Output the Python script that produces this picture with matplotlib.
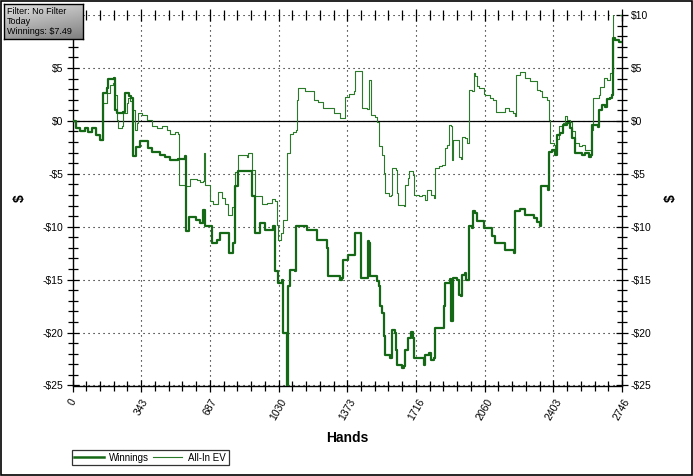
"""
Recreation of a poker session graph: Winnings vs All-In EV over hands.
"""

import matplotlib
matplotlib.use("Agg")
import matplotlib.pyplot as plt
import matplotlib.patches as mpatches
from matplotlib.lines import Line2D
import numpy as np

matplotlib.rc("font", **{"family": ["Liberation Sans", "DejaVu Sans"], "size": 7})

# ── data ──────────────────────────────────────────────────────
X_TICKS = [0, 343.25, 686.5, 1029.75, 1373, 1716.25, 2059.5, 2402.75, 2746]
X_LABELS = ["0", "343", "687", "1030", "1373", "1716", "2060", "2403", "2746"]
Y_TICKS = [-25, -20, -15, -10, -5, 0, 5, 10]
Y_LABELS = ["-$25", "-$20", "-$15", "-$10", "-$5", "$0", "$5", "$10"]

win_hands = [2, 18, 38, 63, 78, 98, 118, 138, 150, 153, 173, 178, 208, 213, 223, 253,
             263, 283, 293, 303, 318, 338, 378, 398, 438, 463, 488, 528, 563, 565,
             583, 618, 638, 653, 663, 696, 721, 738, 784, 804, 813, 829, 888, 896,
             913, 938, 963, 1003, 1013, 1029, 1046, 1051, 1066, 1071, 1079, 1088,
             1113, 1118, 1171, 1221, 1271, 1279, 1338, 1348, 1354, 1379, 1413, 1438,
             1443, 1473, 1475, 1483, 1486, 1522, 1530, 1535, 1546, 1555, 1563, 1588,
             1597, 1610, 1618, 1622, 1647, 1655, 1663, 1677, 1693, 1702, 1708, 1747,
             1755, 1763, 1780, 1793, 1805, 1810, 1838, 1855, 1863, 1888, 1893, 1900,
             1922, 1930, 1943, 1947, 1963, 1968, 1977, 1980, 1997, 2002, 2013, 2022,
             2055, 2097, 2113, 2163, 2205, 2210, 2238, 2263, 2305, 2323, 2335, 2342,
             2377, 2380, 2397, 2413, 2422, 2438, 2450, 2472, 2488, 2497, 2513, 2547,
             2563, 2580, 2593, 2597, 2627, 2633, 2648, 2663, 2672, 2688, 2697, 2700,
             2713, 2730, 2746]
win_vals = [0.0, -0.66, -0.94, -0.66, -1.04, -0.66, -1.32, -1.79, -1.79, 2.64, 3.11,
            3.96, 4.06, 1.04, 0.75, 0.85, 2.64, 2.36, 2.17, -3.30, -2.45, -1.89, -2.55,
            -2.92, -3.21, -3.40, -3.68, -3.58, -3.30, -10.38, -9.06, -9.34, -9.65,
            -8.40, -9.97, -11.54, -11.23, -10.57, -12.45, -11.51, -6.20, -4.78, -4.78,
            -7.14, -10.57, -9.62, -10.28, -9.97, -14.22, -15.31, -15.0, -20.0, -20.0,
            -26.5, -15.63, -14.06, -14.22, -9.97, -10.28, -11.23, -11.98, -14.69,
            -15.0, -14.8, -13.11, -12.64, -10.59, -10.59, -14.84, -14.84, -11.39,
            -11.5, -14.69, -15.16, -15.63, -17.52, -18.11, -20.35, -22.08, -22.39,
            -19.78, -20.03, -21.60, -23.02, -23.33, -23.18, -21.60, -20.50, -19.97,
            -20.50, -22.39, -22.39, -23.02, -22.08, -21.92, -22.55, -22.39, -19.56,
            -19.56, -17.52, -15.31, -14.93, -18.93, -14.84, -15.0, -16.42, -16.58,
            -14.53, -14.37, -15.0, -15.0, -9.97, -10.12, -8.56, -8.71, -9.50, -10.12,
            -10.92, -11.54, -12.17, -12.48, -8.56, -8.33, -8.87, -9.18, -9.53, -9.97,
            -6.13, -6.51, -2.90, -2.74, -3.21, -1.32, -1.16, -0.38, -0.22, -0.66,
            -1.63, -3.05, -3.21, -3.05, -3.37, -3.21, -0.38, -0.59, 1.04, 1.51, 1.35,
            2.05, 2.14, 2.45, 7.80, 7.64, 7.48, 7.49]

ev_hands = [2, 18, 38, 63, 78, 98, 118, 138, 153, 171, 188, 204, 213, 221, 229, 246,
            254, 271, 279, 288, 296, 313, 321, 329, 346, 371, 396, 421, 446, 471, 488,
            513, 529, 534, 563, 588, 623, 638, 654, 658, 663, 671, 688, 704, 729, 746,
            763, 779, 796, 813, 829, 871, 879, 888, 896, 913, 938, 946, 971, 996, 1013,
            1021, 1029, 1043, 1054, 1071, 1074, 1088, 1104, 1118, 1121, 1125, 1163,
            1205, 1228, 1254, 1305, 1338, 1358, 1363, 1380, 1405, 1413, 1443, 1447,
            1473, 1480, 1488, 1492, 1513, 1522, 1530, 1546, 1555, 1563, 1580, 1590,
            1598, 1618, 1622, 1627, 1655, 1663, 1677, 1680, 1693, 1700, 1705, 1730,
            1748, 1760, 1772, 1793, 1805, 1810, 1833, 1848, 1860, 1872, 1880, 1893,
            1897, 1900, 1922, 1930, 1943, 1947, 1963, 1972, 1980, 1997, 2005, 2013,
            2022, 2030, 2047, 2055, 2063, 2088, 2103, 2116, 2146, 2159, 2179, 2199,
            2213, 2216, 2238, 2263, 2288, 2313, 2322, 2338, 2347, 2372, 2383, 2385,
            2405, 2413, 2422, 2430, 2450, 2463, 2472, 2488, 2497, 2510, 2530, 2547,
            2560, 2590, 2593, 2600, 2622, 2630, 2638, 2655, 2672, 2688, 2697, 2700,
            2713, 2738, 2746]
ev_vals = [0.0, -0.66, -0.94, -0.66, -1.04, -0.66, -1.32, -1.79, 1.67, 2.64, 3.40,
           3.58, 2.45, 0.09, -0.69, -0.50, 0.72, 1.67, 2.17, 1.89, 1.04, -0.85, -0.22,
           0.72, 0.57, 0.09, -0.53, -0.69, -0.53, -0.85, -1.20, -1.04, -1.20, -6.04,
           -6.20, -5.47, -5.60, -5.75, -5.66, -3.0, -6.04, -6.04, -7.55, -7.90, -6.76,
           -7.30, -7.90, -8.87, -8.10, -4.87, -3.21, -3.40, -3.05, -3.05, -4.62,
           -7.14, -7.14, -7.90, -7.74, -7.40, -7.58, -9.80, -11.23, -10.6, -9.34,
           -6.83, -3.05, -1.20, -1.04, -0.85, 2.0, 3.1, 2.8, 2.0, 1.8, 1.21, 0.72,
           0.25, 0.25, 2.29, 2.5, 2.8, 4.69, 4.69, 1.21, 1.10, 3.84, 3.84, 0.57, 0.4,
           -0.07, -2.42, -3.21, -4.94, -6.83, -7.14, -7.0, -4.46, -4.62, -6.83, -7.93,
           -8.09, -6.04, -5.41, -4.78, -4.78, -5.10, -6.98, -7.14, -7.0, -7.52, -6.57,
           -6.98, -7.30, -4.46, -4.30, -4.15, -2.61, -2.3, -0.38, -0.5, -3.7, -1.79,
           -1.79, -3.40, -3.6, -1.50, -1.6, -2.08, 2.92, 2.8, 4.53, 4.2, 3.3, 3.1, 3.1,
           2.5, 2.45, 2.14, 2.0, 0.88, 0.88, 1.2, 0.9, 0.72, 0.47, 4.31, 4.65, 4.06,
           3.8, 3.74, 2.92, 2.8, 2.23, 1.98, 0.09, -2.11, -2.29, -2.7, -1.67, -0.53,
           -0.22, 0.47, 0.1, -0.07, -1.0, -2.11, -2.42, -2.3, -2.74, -2.6, -0.85, 2.14,
           2.14, 2.45, 3.24, 4.03, 3.9, 4.5, 4.65, 10.5, 10.2, 10.0, 10.0]

WIN_COLOR = "#156815"
EV_COLOR = "#2a7a2a"

# ── figure ────────────────────────────────────────────────────
W, H = 693, 476
fig = plt.figure(figsize=(W / 100, H / 100), dpi=100)
ax = fig.add_axes([72.5 / W, 1 - 385.5 / H, (622 - 72.5) / W, (385.5 - 15) / H])

ax.plot(ev_hands, ev_vals, color=EV_COLOR, lw=0.8, drawstyle="steps-post", zorder=3)
ax.plot(win_hands, win_vals, color=WIN_COLOR, lw=1.6, drawstyle="steps-post", zorder=4)
ax.axhline(0, color="black", lw=0.9, zorder=2)

ax.set_xlim(0, 2746)
ax.set_ylim(-25, 10)
ax.set_xticks(X_TICKS)
ax.set_xticklabels(X_LABELS, rotation=60, ha="center", va="top")
ax.set_xticks(np.linspace(0, 2746, 41), minor=True)
ax.set_yticks(Y_TICKS)
ax.set_yticklabels(Y_LABELS)
ax.set_yticks(np.arange(-25, 11, 1), minor=True)

ax.grid(True, which="major", color="black", linestyle=(0, (1, 3.5)), lw=0.8)
ax.spines["top"].set_visible(False)
for s in ["left", "right", "bottom"]:
    ax.spines[s].set_linewidth(1.0)

ax.tick_params(which="both", direction="inout", right=True, top=True,
               labelright=True, labelsize=7.5, width=0.9)
ax.tick_params(which="major", length=9, pad=2)
ax.tick_params(which="minor", length=7)
ax.tick_params(axis="x", which="major", pad=4)
# the left "$10" label sits under the filter box in the original
ax.yaxis.get_major_ticks()[-1].label1.set_visible(False)

ax.set_xlabel("Hands", fontsize=10, fontweight="bold", labelpad=6)
fig.text(20 / W, 1 - 198 / H, "$", rotation=90, fontsize=10, fontweight="bold",
         ha="center", va="center")
fig.text(671 / W, 1 - 198 / H, "$", rotation=90, fontsize=10, fontweight="bold",
         ha="center", va="center")

# legend
handles = [Line2D([], [], color=WIN_COLOR, lw=1.8), Line2D([], [], color=EV_COLOR, lw=0.8)]
leg = fig.legend(handles, ["Winnings", "All-In EV"], ncol=2, loc="lower left",
                 bbox_to_anchor=(72 / W, 1 - 465 / H), fontsize=7, frameon=True,
                 fancybox=False, edgecolor="black", borderpad=0.25, handlelength=3.0,
                 handletextpad=0.6, columnspacing=0.4, borderaxespad=0)
leg.get_frame().set_linewidth(0.9)

# filter info box with gray gradient
box = fig.add_axes([4 / W, 1 - 39 / H, 79 / W, 35 / H])
grad = np.linspace(0, 1, 64)
img = 0.88 - 0.38 * (grad[:, None] * 0.7 + grad[None, :] * 0.3)
box.imshow(img, cmap="gray", vmin=0, vmax=1, aspect="auto", extent=[0, 1, 0, 1],
           origin="upper")
box.set_xticks([])
box.set_yticks([])
for s in box.spines.values():
    s.set_linewidth(1.0)
for i, line in enumerate(["Filter: No Filter", "Today", "Winnings: $7.49"]):
    box.text(0.04, 0.80 - i * 0.30, line, transform=box.transAxes, fontsize=6.5,
             ha="left", va="center")

# outer border
fig.patches.append(mpatches.Rectangle((0.0015, 0.002), 0.997, 0.996, transform=fig.transFigure,
                                      fill=False, edgecolor="black", lw=1.2))

fig.savefig("out.png", dpi=100)
